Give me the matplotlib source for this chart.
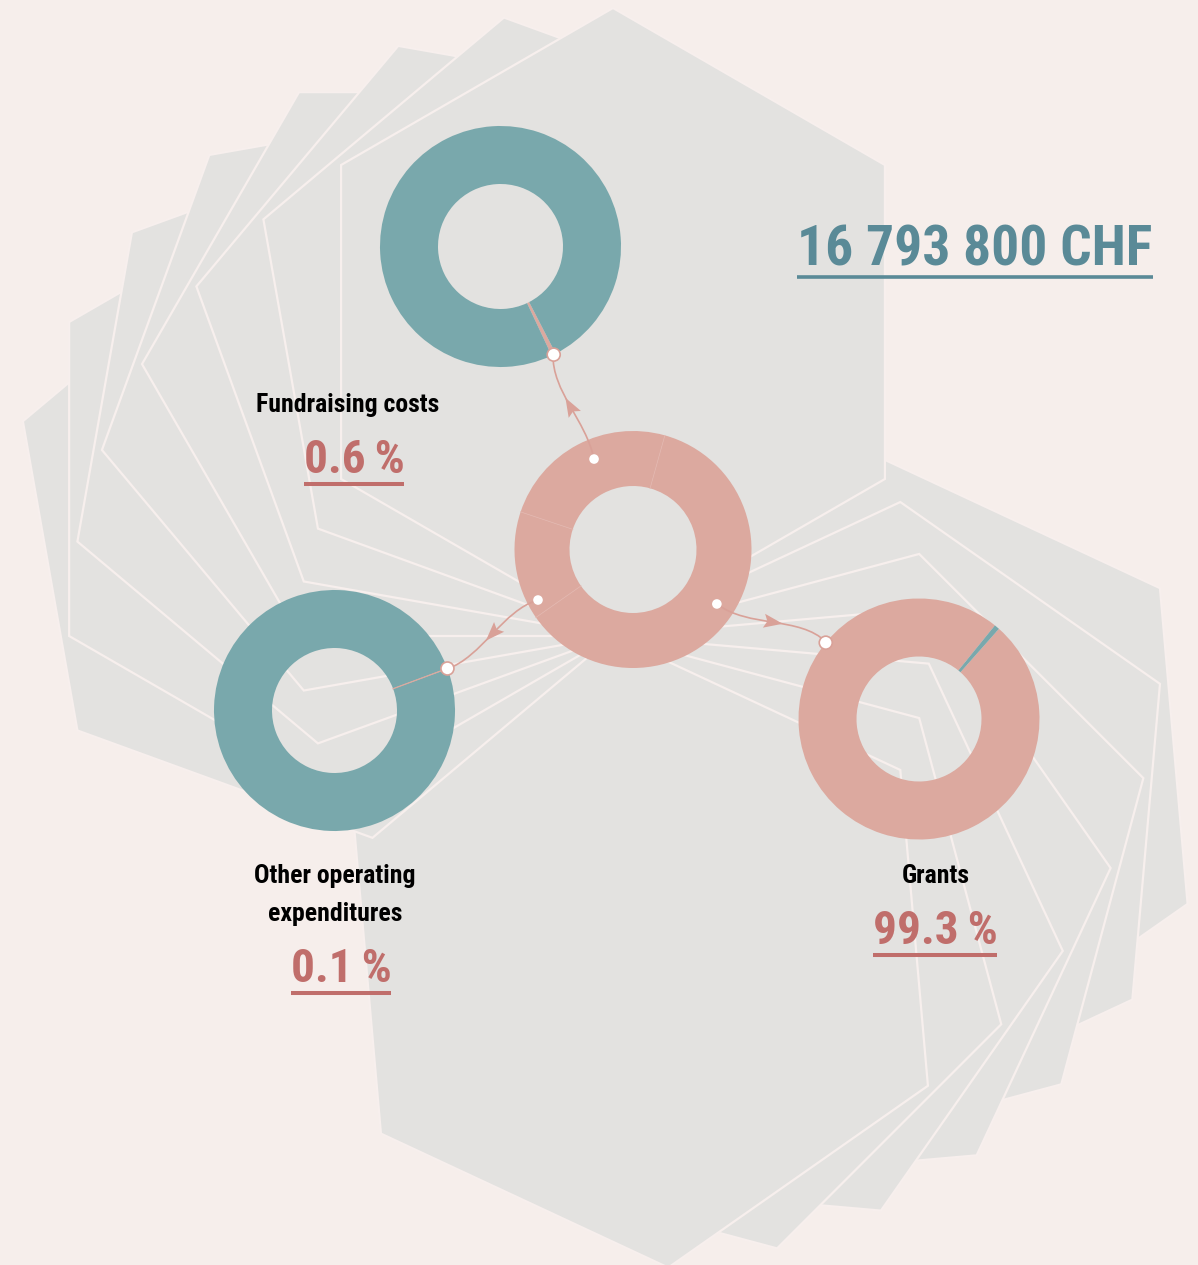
import numpy as np
import matplotlib
matplotlib.use("Agg")
import matplotlib.pyplot as plt
from matplotlib.patches import Polygon, Circle, PathPatch
from matplotlib.path import Path
from matplotlib import font_manager

# ---------------- data ----------------
categories = ["Fundraising costs", "Other operating\nexpenditures", "Grants"]
shares = [0.6, 0.1, 99.3]                       # percent of total
share_labels = ["0.6\u2009%", "0.1\u2009%", "99.3\u2009%"]
total_label = "16 793 800 CHF"
hub_weights = [219.4, 53.5, 87.1]               # arcs of the central ring (grants, other, fundraising)
left_fan = [-70, -60, -50, -40, -30, -20, -10, 0]        # hexagon rotations (deg)
right_fan = [115, 125, 135, 145, 155, 165, 175]

# ---------------- style / layout ----------------
W, H = 1198, 1265
BG = "#f6eeeb"
HEX_FILL = "#e3e2e0"
HEX_EDGE = "#f7efed"
PINK = "#dca99f"
TEAL = "#79a8ac"
RED = "#c06e6b"
TITLE_C = "#5a8a97"
ARROW_C = "#d9a198"

PIVOT = np.array([613.0, 636.0])
HEX_R_LEFT = 314.0
HEX_R_RIGHT = 317.0
HUB = (633.0, 549.5)
HUB_R, HUB_W = 118.5, 55.0
HUB_START = 15.6
SAT_R, SAT_W = 120.5, 58.0
sat_centers = [(500.5, 246.5), (334.5, 710.5), (919.0, 719.0)]
pink_start = [152.72, 69.42, 41.56]             # clockwise from top
sat_dot_angle = [153.8, 69.6, 309.3]
hub_dot_angle = [336.7, 242.0, 123.0]
hub_dot_r = [98.5, 107.6, 100.0]
arrow_ctrl = [
    [(594, 459), (586, 420), (552, 392), (553, 354)],
    [(538, 600), (503, 610), (482, 657), (447, 669)],
    [(717, 604), (748, 628), (800, 616), (826, 642)],
]

avail = {f.name for f in font_manager.fontManager.ttflist}
FONT = [n for n in ["Liberation Sans Narrow", "Roboto Condensed", "Open Sans Condensed"] if n in avail]
FONT += ["Liberation Sans", "DejaVu Sans"]


def pt(theta, r, c):
    t = np.radians(theta)
    return np.array([c[0] + r * np.sin(t), c[1] - r * np.cos(t)])


fig = plt.figure(figsize=(W / 100, H / 100), dpi=100)
fig.patch.set_facecolor(BG)
ax = fig.add_axes([0, 0, 1, 1])
ax.set_facecolor(BG)

# ---------------- hexagon fans ----------------
def hexagon(phi, R):
    c = pt(phi, R, PIVOT)
    return np.array([pt(phi + 180 + 60 * k, R, c) for k in range(6)])

for fan, R in ((right_fan, HEX_R_RIGHT), (left_fan, HEX_R_LEFT)):
    for phi in fan:
        ax.add_patch(Polygon(hexagon(phi, R), closed=True, facecolor=HEX_FILL,
                             edgecolor=HEX_EDGE, linewidth=1.6, joinstyle="miter", zorder=1))

# ---------------- arrows ----------------
for cp in arrow_ctrl:
    cp = np.array(cp, dtype=float)
    path = Path(cp, [Path.MOVETO, Path.CURVE4, Path.CURVE4, Path.CURVE4])
    ax.add_patch(PathPatch(path, facecolor="none", edgecolor=ARROW_C, linewidth=1.2, zorder=2))
    t = 0.5
    b = ((1 - t) ** 3) * cp[0] + 3 * ((1 - t) ** 2) * t * cp[1] + 3 * (1 - t) * t * t * cp[2] + t ** 3 * cp[3]
    d = 3 * ((1 - t) ** 2) * (cp[1] - cp[0]) + 6 * (1 - t) * t * (cp[2] - cp[1]) + 3 * t * t * (cp[3] - cp[2])
    u = d / np.linalg.norm(d)
    n = np.array([-u[1], u[0]])
    L, Wd = 19.0, 14.0
    tip = b + u * L / 2
    back = b - u * L / 2
    notch = b - u * L * 0.32
    ax.add_patch(Polygon([tip, back + n * Wd / 2, notch, back - n * Wd / 2], closed=True,
                         facecolor=ARROW_C, edgecolor="none", zorder=2))

# ---------------- central ring ----------------
ax.pie(hub_weights, colors=[PINK] * 3, startangle=HUB_START - 90, counterclock=True,
       radius=HUB_R, center=HUB, frame=True,
       wedgeprops=dict(width=HUB_W, linewidth=0, antialiased=True))
acc = HUB_START
for w in hub_weights:
    p0 = pt(acc, HUB_R - HUB_W, HUB)
    p1 = pt(acc, HUB_R, HUB)
    ax.plot([p0[0], p1[0]], [p0[1], p1[1]], color="#e3b5ad", lw=0.6, zorder=4)
    acc += w

# ---------------- satellite rings ----------------
for c, s, st in zip(sat_centers, shares, pink_start):
    ax.pie([s, 100 - s], colors=[PINK, TEAL], startangle=st - 90, counterclock=True,
           radius=SAT_R, center=c, frame=True,
           wedgeprops=dict(width=SAT_W, linewidth=0))
    if s < 0.3:
        p0 = pt(st + s * 1.8, SAT_R - SAT_W, c)
        p1 = pt(st + s * 1.8, SAT_R, c)
        ax.plot([p0[0], p1[0]], [p0[1], p1[1]], color=PINK, lw=0.9, zorder=4)

# ---------------- dots ----------------
for a, r in zip(hub_dot_angle, hub_dot_r):
    ax.add_patch(Circle(pt(a, r, HUB), 4.8, facecolor="white", edgecolor="none", zorder=5))
for c, a in zip(sat_centers, sat_dot_angle):
    ax.add_patch(Circle(pt(a, SAT_R, c), 6.5, facecolor="white", edgecolor=ARROW_C,
                        linewidth=1.2, zorder=5))

ax.set_xlim(0, W)
ax.set_ylim(H, 0)
ax.set_aspect("equal")
ax.axis("off")

# ---------------- texts ----------------
texts_u = []
t = ax.text(975, 265, total_label, color=TITLE_C, fontsize=40, fontweight="bold",
            family=FONT, ha="center", va="baseline", zorder=6)
texts_u.append((t, 12, 2.6, TITLE_C))

label_pos = [(348, 412), (335, 883), (936, 883)]
pct_pos = [(354, 473), (341, 982), (935, 944)]
for cat, lab, lp, pp in zip(categories, share_labels, label_pos, pct_pos):
    lines = cat.split("\n")
    for i, ln in enumerate(lines):
        ax.text(lp[0], lp[1] + 38 * i, ln, color="black", fontsize=18.5, fontweight="bold",
                family=FONT, ha="center", va="baseline", zorder=6)
    t = ax.text(pp[0], pp[1], lab, color=RED, fontsize=34, fontweight="bold",
                family=FONT, ha="center", va="baseline", zorder=6)
    texts_u.append((t, 11, 2.9, RED))

fig.canvas.draw()
r = fig.canvas.get_renderer()
inv = ax.transData.inverted()
for t, gap, lw, col in texts_u:
    bb = t.get_window_extent(r)
    (x0, _), (x1, _) = inv.transform([[bb.x0, bb.y0], [bb.x1, bb.y1]])
    y = t.get_position()[1] + gap
    ax.plot([x0, x1], [y, y], color=col, lw=lw, solid_capstyle="butt", zorder=6)

fig.savefig("out.png", dpi=100, facecolor=BG)
